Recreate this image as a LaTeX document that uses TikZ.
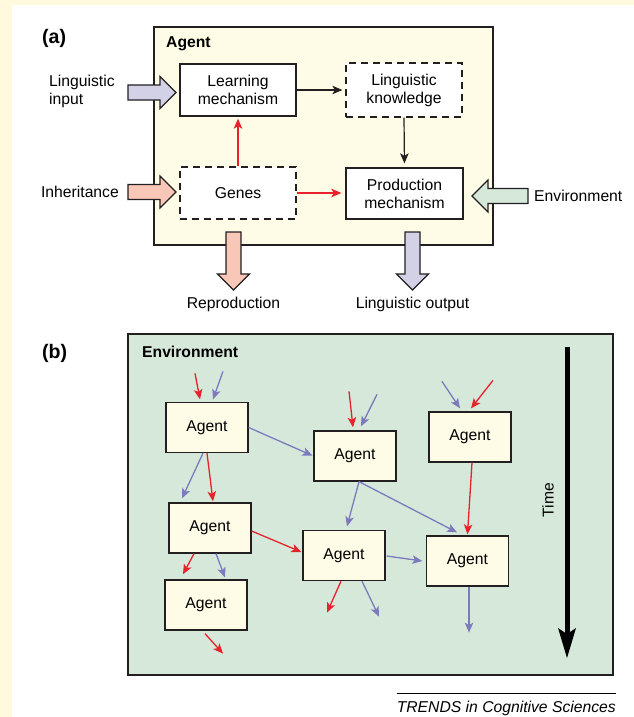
\documentclass[tikz,border=0pt]{standalone}
\usepackage{fontspec}
\setmainfont{Liberation Sans}
\usetikzlibrary{arrows.meta}

\definecolor{pageyellow}{HTML}{FFF9DE}
\definecolor{agentfill}{HTML}{FEFBE6}
\definecolor{envfill}{HTML}{D6E8D9}
\definecolor{lilac}{HTML}{D3D1E6}
\definecolor{salmon}{HTML}{F8C7B7}
\definecolor{mint}{HTML}{D6E8DA}
\definecolor{gred}{HTML}{E8222C}
\definecolor{gblue}{HTML}{7C7ABD}
\definecolor{ink}{HTML}{231F20}

\tikzset{
	txt/.style={inner sep=0pt, font=\fontsize{15.7}{18}\selectfont},
	boldtxt/.style={inner sep=0pt, font=\fontsize{15.7}{18}\selectfont\bfseries},
	box/.style={draw=ink, line width=1.3pt, fill=white, minimum width=116pt, minimum height=52pt, align=center, font=\fontsize{15.7}{18}\selectfont},
	dashbox/.style={box, dash pattern=on 7pt off 5pt},
	agent/.style={box, fill=agentfill, minimum width=82pt, minimum height=50pt},
	frame/.style={draw=ink, line width=1.3pt},
	fatline/.style={draw=ink, line width=1.2pt, line join=miter},
	blackarr/.style={-{Stealth[length=10pt, width=8.5pt, inset=2.5pt]}, line width=1.2pt, draw=ink},
	redarr/.style={blackarr, draw=gred, line width=1.3pt},
	bluearr/.style={blackarr, draw=gblue, line width=1.3pt},
	timearr/.style={-{Stealth[length=30pt, width=18pt, inset=6pt, line width=0pt]}, line width=5pt, draw=black},
}

% outlined block arrow: fill, tip point, turn and total length
\def\fatarrow[#1](#2)(#3:#4){\draw[fatline, fill=#1, shift={(#2)}, rotate=#3] (0,0) -- (-16,16) -- (-16,7.5) -- (-#4,7.5) -- (-#4,-7.5) -- (-16,-7.5) -- (-16,-16) -- cycle;}

\begin{document}
\begin{tikzpicture}[x=1pt, y=-1pt]
			%%%%% START %%%%%
			
			\useasboundingbox (0,0) rectangle (634,717);
			\fill[pageyellow] (0,0) rectangle (634,717);
			\fill[white] (12,5) rectangle (634,717);
			
			%%%%% (a) %%%%%
			
			\node[inner sep=0pt, anchor=base west, font=\fontsize{19.6}{22}\selectfont\bfseries] (pa) at (42,43.5) {(a)};
			
			\draw[frame, fill=agentfill] (154,27) rectangle (493,245);
			\node[boldtxt, anchor=base west] (agenttitle) at (166,48) {Agent};
			
			\node[box] (learn) at (238,90) {Learning\\mechanism};
			\node[dashbox, minimum height=54pt] (know) at (404,90) {Linguistic\\knowledge};
			\node[dashbox] (genes) at (238,193) {Genes};
			\node[box, minimum width=117pt, minimum height=51pt] (prod) at (404.5,193.5) {Production\\mechanism};
			
			\draw[blackarr, shorten >=3pt] (learn.east) -- (know.west);
			\draw[blackarr, shorten >=4pt] (know.south) -- (prod.north);
			\draw[redarr, shorten >=2pt] (genes.north) -- (learn.south);
			\draw[redarr, shorten >=4pt] (genes.east) -- (genes.east -| prod.west);
			
			\fatarrow[lilac](176,92.5)(0:48)
			\fatarrow[salmon](176,192)(0:48)
			\fatarrow[salmon](233.5,290)(-90:58)
			\fatarrow[lilac](412.5,290)(-90:58)
			\fatarrow[mint](472,196)(180:56)
			
			\node[txt, anchor=west, align=left] (lingin) at (49,91) {Linguistic\\input};
			\node[txt, anchor=east] (inherit) at (119,192) {Inheritance};
			\node[txt, anchor=base] (repro) at (233.5,308) {Reproduction};
			\node[txt, anchor=base] (lingout) at (412.5,308) {Linguistic output};
			\node[txt, anchor=base west] (envin) at (534,201) {Environment};
			
			%%%%% (b) %%%%%
			
			\node[inner sep=0pt, anchor=base west, font=\fontsize{19.6}{22}\selectfont\bfseries] (pb) at (42,358) {(b)};
			
			\draw[frame, fill=envfill] (128,334) rectangle (613,675);
			\node[boldtxt, anchor=base west] (envtitle) at (142,357) {Environment};
			
			\node[agent] (a1) at (207,427.5) {Agent};
			\node[agent] (a2) at (355,456) {Agent};
			\node[agent] (a3) at (210,528) {Agent};
			\node[agent] (a4) at (344,555.5) {Agent};
			\node[agent] (a5) at (206,605) {Agent};
			\node[agent] (a6) at (470,437) {Agent};
			\node[agent] (a7) at (467.5,561) {Agent};
			
			\draw[redarr] ([shift={(-12,-28.5)}]a1.north) -- ([shift={(-7,-2.5)}]a1.north);
			\draw[bluearr] ([shift={(16,-30.5)}]a1.north) -- ([shift={(6,-2.5)}]a1.north);
			\draw[bluearr, shorten >=1pt] (a1.east) -- (a2.west);
			\draw[bluearr] ([shift={(-4,0)}]a1.south) -- ([shift={(-28,-4)}]a3.north);
			\draw[redarr] (a1.south) -- ([shift={(3,-1)}]a3.north);
			
			\draw[redarr] ([shift={(-6,-39)}]a2.north) -- ([shift={(-2,-3)}]a2.north);
			\draw[bluearr] ([shift={(22,-36)}]a2.north) -- ([shift={(6,-4)}]a2.north);
			\draw[bluearr] ([shift={(4,0)}]a2.south) -- ([shift={(3,-3.5)}]a4.north);
			\draw[bluearr] ([shift={(4,0)}]a2.south) -- ([shift={(-10.5,-3)}]a7.north);
			
			\draw[redarr] ([shift={(0,3)}]a3.east) -- ([shift={(-1,-3.5)}]a4.west);
			\draw[redarr] ([shift={(-16,0)}]a3.south) -- ([shift={(-23,-5)}]a5.north);
			\draw[bluearr] ([shift={(6,0)}]a3.south) -- ([shift={(19,-2)}]a5.north);
			
			\draw[bluearr] ([shift={(1,0.5)}]a4.east) -- ([shift={(-3.5,0)}]a7.west);
			\draw[redarr] ([shift={(-3,0)}]a4.south) -- ([shift={(-17,31.5)}]a4.south);
			\draw[bluearr] ([shift={(18,0)}]a4.south) -- ([shift={(35,35.5)}]a4.south);
			
			\draw[redarr] ([shift={(-1,3)}]a5.south) -- ([shift={(17,23)}]a5.south);
			
			\draw[bluearr] ([shift={(-28,-30)}]a6.north) -- ([shift={(-10,-3)}]a6.north);
			\draw[redarr] ([shift={(23,-31)}]a6.north) -- ([shift={(1,-3)}]a6.north);
			\draw[redarr] ([shift={(2,0)}]a6.south) -- ([shift={(0,-1)}]a7.north);
			
			\draw[bluearr] ([shift={(1.5,0)}]a7.south) -- ([shift={(1.5,46)}]a7.south);
			
			\coordinate (tbeg) at (567,347);
			\coordinate (tend) at (567,658);
			\draw[timearr] (tbeg) -- (tend);
			\node[txt, rotate=90] (timelbl) at (548,500) {Time};
			
			\node[txt, anchor=base east, font=\fontsize{15.7}{18}\selectfont\itshape] (trends) at (616,712.5) {TRENDS in Cognitive Sciences};
			\draw[line width=1pt] ([shift={(0,-7)}]trends.north west) -- ([shift={(0,-7)}]trends.north east);
			
			%%%%% END %%%%%
\end{tikzpicture}
\end{document}
